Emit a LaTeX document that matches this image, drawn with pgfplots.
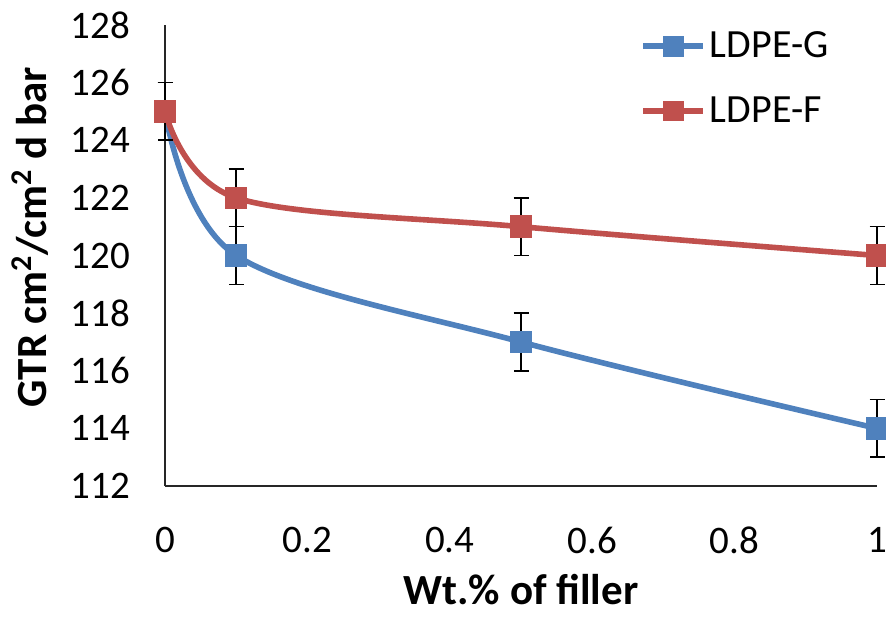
\documentclass[border=0pt]{standalone}
\usepackage{fontspec}
\setmainfont{Carlito}
\usepackage{pgfplots}
\pgfplotsset{compat=1.18}
\definecolor{exblue}{HTML}{4F81BD}
\definecolor{exred}{HTML}{C0504D}
\begin{document}
\begin{tikzpicture}
\useasboundingbox (0,0) rectangle (443pt,308.5pt);
\begin{axis}[
  at={(82.5pt,65.5pt)}, anchor=south west,
  scale only axis, width=356pt, height=230.5pt,
  xmin=0, xmax=1, ymin=112, ymax=128,
  axis x line*=bottom, axis y line*=left,
  axis line style={line width=0.8pt, black!85},
  major tick length=0pt,
  xtick={0,0.2,0.4,0.6,0.8,1}, ytick={112,114,...,128},
  /pgf/number format/assume math mode=true,
  tick label style={font=\fontsize{19.5}{23}\selectfont, black},
  xticklabel style={yshift=-17pt},
  yticklabel style={xshift=-14pt},
  xlabel={\textbf{Wt.\% of filler}},
  ylabel={\textbf{GTR cm\textsuperscript{2}/cm\textsuperscript{2} d bar}},
  label style={font=\fontsize{21.5}{25}\selectfont},
  xlabel style={at={(axis description cs:0.5,0)}, anchor=base, yshift=-59pt},
  ylabel style={at={(axis description cs:-0.19,0.54)}, anchor=center},
  clip=false,
  legend style={at={(axis description cs:0.667,0.995)}, anchor=north west, draw=none, fill=none,
    font=\fontsize{20}{24}\selectfont, row sep=14pt, inner sep=0pt},
  legend cell align=left,
  legend image code/.code={\draw[mark repeat=2,mark phase=2, mark size=3.8pt] plot coordinates {(0pt,0pt)(15pt,0pt)(30pt,0pt)};},
]
\addplot[exblue, line width=2.8pt, smooth, tension=0.55, mark=square*, mark size=4.2pt, mark options={solid},
  error bars/.cd, y dir=both, y explicit,
  error bar style={black, line width=0.8pt},
  error mark options={rotate=90, mark size=3.75pt, black, line width=0.8pt}]
  coordinates {(0,125) +- (0,1) (0.1,120) +- (0,1) (0.5,117) +- (0,1) (1,114) +- (0,1)};
\addlegendentry{LDPE-G}
\addplot[exred, line width=2.8pt, smooth, tension=0.55, mark=square*, mark size=4.2pt, mark options={solid},
  error bars/.cd, y dir=both, y explicit,
  error bar style={black, line width=0.8pt},
  error mark options={rotate=90, mark size=3.75pt, black, line width=0.8pt}]
  coordinates {(0,125) +- (0,1) (0.1,122) +- (0,1) (0.5,121) +- (0,1) (1,120) +- (0,1)};
\addlegendentry{LDPE-F}
\end{axis}
\end{tikzpicture}
\end{document}
